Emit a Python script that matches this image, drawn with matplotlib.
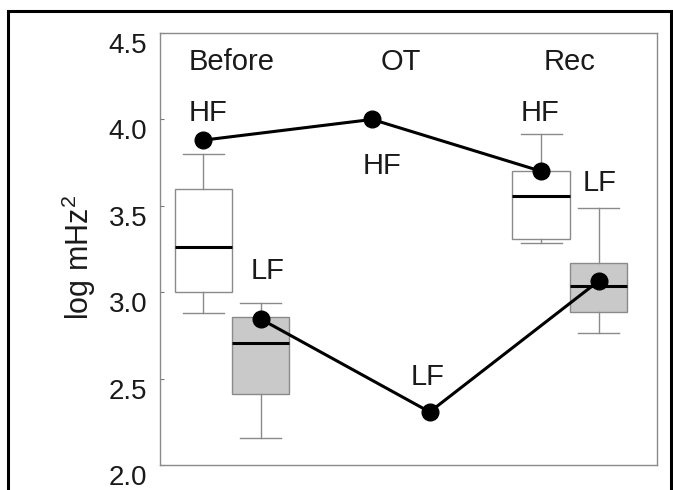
import matplotlib
matplotlib.use("Agg")
import matplotlib.pyplot as plt
from matplotlib.patches import Rectangle
from matplotlib.transforms import ScaledTranslation

plt.rcParams['font.family'] = ['Liberation Sans', 'DejaVu Sans']
plt.rcParams['mathtext.fontset'] = 'custom'
plt.rcParams['mathtext.rm'] = 'Liberation Sans'
plt.rcParams['mathtext.it'] = 'Liberation Sans'

# phases and box statistics (log mHz^2)
phases = ["Before", "OT", "Rec"]
phase_pos = [1, 2, 3]

# box plots exist only for Before and Rec
box_phases = [1, 3]
hf_whislo = [2.88, 3.285]
hf_q1 = [3.00, 3.31]
hf_med = [3.26, 3.555]
hf_q3 = [3.60, 3.70]
hf_whishi = [3.80, 3.915]

lf_whislo = [2.155, 2.765]
lf_q1 = [2.41, 2.885]
lf_med = [2.705, 3.035]
lf_q3 = [2.855, 3.17]
lf_whishi = [2.94, 3.49]

# individual values connected across phases
hf_values = [3.88, 4.00, 3.70]
lf_values = [2.845, 2.307, 3.065]

offset = 0.17
box_w = 0.34

fig = plt.figure(figsize=(6.73, 4.90), dpi=100)
ax = fig.add_axes([0.2377, 0.051, 0.7385, 0.8816])

def make_stats(lo, q1, med, q3, hi):
    return [dict(whislo=a, q1=b, med=c, q3=d, whishi=e, fliers=[])
            for a, b, c, d, e in zip(lo, q1, med, q3, hi)]

edge = '#8a8a8a'
hf_pos = [p - offset for p in box_phases]
lf_pos = [p + offset for p in box_phases]
ax.bxp(make_stats(hf_whislo, hf_q1, hf_med, hf_q3, hf_whishi), positions=hf_pos,
       widths=box_w, capwidths=0.24, patch_artist=True, showfliers=False,
       boxprops=dict(facecolor='white', edgecolor=edge, linewidth=1.0),
       whiskerprops=dict(color=edge, linewidth=1.0),
       capprops=dict(color=edge, linewidth=1.0),
       medianprops=dict(color='black', linewidth=2.2), zorder=2)
ax.bxp(make_stats(lf_whislo, lf_q1, lf_med, lf_q3, lf_whishi), positions=lf_pos,
       widths=box_w, capwidths=0.24, patch_artist=True, showfliers=False,
       boxprops=dict(facecolor='#c9c9c9', edgecolor=edge, linewidth=1.0),
       whiskerprops=dict(color=edge, linewidth=1.0),
       capprops=dict(color=edge, linewidth=1.0),
       medianprops=dict(color='black', linewidth=2.2), zorder=2)

ax.plot([p - offset for p in phase_pos], hf_values, color='black', lw=2.2,
        marker='o', markersize=12, zorder=4)
ax.plot([p + offset for p in phase_pos], lf_values, color='black', lw=2.2,
        marker='o', markersize=12, zorder=4)

fs = 21
tc = '#1a1a1a'
for p, name in zip(phase_pos, phases):
    ax.text(p, 4.33, name, ha='center', va='center', fontsize=fs, color=tc)

ax.text(0.858, 4.037, "HF", ha='center', va='center', fontsize=fs, color=tc)
ax.text(1.213, 3.123, "LF", ha='center', va='center', fontsize=fs, color=tc)
ax.text(1.89, 3.73, "HF", ha='center', va='center', fontsize=fs, color=tc)
ax.text(2.157, 2.509, "LF", ha='center', va='center', fontsize=fs, color=tc)
ax.text(2.825, 4.037, "HF", ha='center', va='center', fontsize=fs, color=tc)
ax.text(3.175, 3.632, "LF", ha='center', va='center', fontsize=fs, color=tc)

ax.set_xlim(0.574, 3.515)
ax.set_ylim(2.0, 4.5)
ax.set_xticks([])
ax.set_yticks([2.0, 2.5, 3.0, 3.5, 4.0, 4.5])
ax.set_yticklabels(["2.0", "2.5", "3.0", "3.5", "4.0", "4.5"])
ax.tick_params(axis='y', direction='in', length=3, width=0.8, color='#777777',
               pad=9, labelsize=20, labelcolor=tc)
for lbl in ax.get_yticklabels():
    lbl.set_transform(lbl.get_transform() + ScaledTranslation(0, -0.10, fig.dpi_scale_trans))

for s in ax.spines.values():
    s.set_color('#8a8a8a')
    s.set_linewidth(1.0)

ax.set_ylabel(r"log mHz$^\mathregular{2}$", fontsize=22, color=tc)
ax.yaxis.set_label_coords(-0.125, 0.48)

# outer frame around the figure
fig.patches.append(Rectangle((0.012, -0.05), 0.985, 1.028, transform=fig.transFigure,
                             fill=False, edgecolor='black', linewidth=2.2))

fig.savefig("out.png", dpi=100)
